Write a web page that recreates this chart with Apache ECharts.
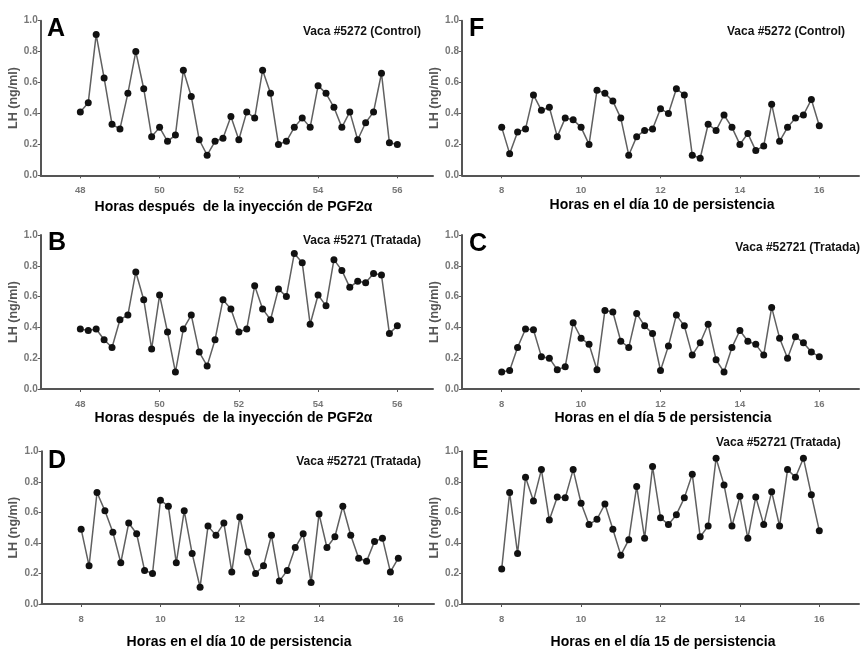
<!DOCTYPE html>
<html>
<head>
<meta charset="utf-8">
<script src="https://cdn.jsdelivr.net/npm/echarts@6/dist/echarts.min.js"></script>
<style>
html, body { margin: 0; padding: 0; background: #fff; }
#chart { width: 862px; height: 650px; }
</style>
</head>
<body>
<div id="chart"></div>
<script>
// horas de muestreo (cada 12 min)
var hoursPost = [48.0, 48.2, 48.4, 48.6, 48.8, 49.0, 49.2, 49.4, 49.6, 49.8,
    50.0, 50.2, 50.4, 50.6, 50.8, 51.0, 51.2, 51.4, 51.6, 51.8,
    52.0, 52.2, 52.4, 52.6, 52.8, 53.0, 53.2, 53.4, 53.6, 53.8,
    54.0, 54.2, 54.4, 54.6, 54.8, 55.0, 55.2, 55.4, 55.6, 55.8, 56.0];
var hoursDay = [8.0, 8.2, 8.4, 8.6, 8.8, 9.0, 9.2, 9.4, 9.6, 9.8,
    10.0, 10.2, 10.4, 10.6, 10.8, 11.0, 11.2, 11.4, 11.6, 11.8,
    12.0, 12.2, 12.4, 12.6, 12.8, 13.0, 13.2, 13.4, 13.6, 13.8,
    14.0, 14.2, 14.4, 14.6, 14.8, 15.0, 15.2, 15.4, 15.6, 15.8, 16.0];

// LH (ng/ml) por panel
var lhA = [0.41, 0.47, 0.91, 0.63, 0.33, 0.30, 0.53, 0.80, 0.56, 0.25, 0.31, 0.22, 0.26, 0.68, 0.51, 0.23, 0.13, 0.22, 0.24, 0.38,
    0.23, 0.41, 0.37, 0.68, 0.53, 0.20, 0.22, 0.31, 0.37, 0.31, 0.58, 0.53, 0.44, 0.31, 0.41, 0.23, 0.34, 0.41, 0.66, 0.21, 0.20];
var lhF = [0.31, 0.14, 0.28, 0.30, 0.52, 0.42, 0.44, 0.25, 0.37, 0.36, 0.31, 0.20, 0.55, 0.53, 0.48, 0.37, 0.13, 0.25, 0.29, 0.30,
    0.43, 0.40, 0.56, 0.52, 0.13, 0.11, 0.33, 0.29, 0.39, 0.31, 0.20, 0.27, 0.16, 0.19, 0.46, 0.22, 0.31, 0.37, 0.39, 0.49, 0.32];
var lhB = [0.39, 0.38, 0.39, 0.32, 0.27, 0.45, 0.48, 0.76, 0.58, 0.26, 0.61, 0.37, 0.11, 0.39, 0.48, 0.24, 0.15, 0.32, 0.58, 0.52,
    0.37, 0.39, 0.67, 0.52, 0.45, 0.65, 0.60, 0.88, 0.82, 0.42, 0.61, 0.54, 0.84, 0.77, 0.66, 0.70, 0.69, 0.75, 0.74, 0.36, 0.41];
var lhC = [0.11, 0.12, 0.27, 0.39, 0.385, 0.21, 0.20, 0.125, 0.145, 0.43, 0.33, 0.29, 0.125, 0.51, 0.50, 0.31, 0.27, 0.49, 0.41, 0.36,
    0.12, 0.28, 0.48, 0.41, 0.22, 0.30, 0.42, 0.19, 0.11, 0.27, 0.38, 0.31, 0.29, 0.22, 0.53, 0.33, 0.20, 0.34, 0.30, 0.24, 0.21];
var lhD = [0.49, 0.25, 0.73, 0.61, 0.47, 0.27, 0.53, 0.46, 0.22, 0.20, 0.68, 0.64, 0.27, 0.61, 0.33, 0.11, 0.51, 0.45, 0.53, 0.21,
    0.57, 0.34, 0.20, 0.25, 0.45, 0.15, 0.22, 0.37, 0.46, 0.14, 0.59, 0.37, 0.44, 0.64, 0.45, 0.30, 0.28, 0.41, 0.43, 0.21, 0.30];
var lhE = [0.23, 0.73, 0.33, 0.83, 0.675, 0.88, 0.55, 0.70, 0.695, 0.88, 0.66, 0.52, 0.555, 0.655, 0.49, 0.32, 0.42, 0.77, 0.43, 0.90,
    0.565, 0.52, 0.585, 0.695, 0.85, 0.44, 0.51, 0.955, 0.78, 0.51, 0.705, 0.43, 0.70, 0.52, 0.735, 0.51, 0.88, 0.83, 0.955, 0.715, 0.48];

var ticksPost = [48, 50, 52, 54, 56];
var ticksDay = [8, 10, 12, 14, 16];

var panelLetters = ['A', 'F', 'B', 'C', 'D', 'E'];
var cowLabels = ['Vaca #5272 (Control)', 'Vaca #5272 (Control)', 'Vaca #5271 (Tratada)',
    'Vaca #52721 (Tratada)', 'Vaca #52721 (Tratada)', 'Vaca #52721 (Tratada)'];
var xTitles = ['Horas después  de la inyección de PGF2α', 'Horas en el día 10 de persistencia',
    'Horas después  de la inyección de PGF2α', 'Horas en el día 5 de persistencia',
    'Horas en el día 10 de persistencia', 'Horas en el día 15 de persistencia'];
var yName = 'LH (ng/ml)';

var FONT = '"Liberation Sans", Arial, sans-serif';

// posicion de cada panel en la pagina
var panels = [
    { hours: hoursPost, lh: lhA, ticks: ticksPost, min: 47, max: 56.9,
      grid: { left: 40.7, top: 20.7, width: 392.3, height: 154.6 },
      letter: [47, 29], cow: [421, 31.5, 'right'], title: [233.5, 207.5] },
    { hours: hoursDay, lh: lhF, ticks: ticksDay, min: 7, max: 17,
      grid: { left: 462, top: 20.7, width: 397, height: 154.6 },
      letter: [469, 29], cow: [727, 31.5, 'left'], title: [662, 205] },
    { hours: hoursPost, lh: lhB, ticks: ticksPost, min: 47, max: 56.9,
      grid: { left: 40.7, top: 235, width: 392.3, height: 154 },
      letter: [48, 243.5], cow: [421, 240.5, 'right'], title: [233.5, 418] },
    { hours: hoursDay, lh: lhC, ticks: ticksDay, min: 7, max: 17,
      grid: { left: 462, top: 235, width: 397, height: 154 },
      letter: [469, 244], cow: [860, 247.5, 'right'], title: [663, 418] },
    { hours: hoursDay, lh: lhD, ticks: ticksDay, min: 7, max: 16.9,
      grid: { left: 41.5, top: 451.3, width: 392.5, height: 152.7 },
      letter: [48, 461.5], cow: [421, 461.5, 'right'], title: [239, 642] },
    { hours: hoursDay, lh: lhE, ticks: ticksDay, min: 7, max: 17,
      grid: { left: 462, top: 451.3, width: 397, height: 152.7 },
      letter: [472, 461], cow: [716, 442.5, 'left'], title: [663, 642] }
];

var grids = [], xAxes = [], yAxes = [], series = [], texts = [];

panels.forEach(function (p, i) {
    grids.push(p.grid);
    xAxes.push({
        type: 'value', gridIndex: i, min: p.min, max: p.max,
        axisLine: { onZero: false, lineStyle: { color: '#555', width: 2 } },
        axisTick: { customValues: p.ticks, length: 3, lineStyle: { color: '#555', width: 1 } },
        axisLabel: { customValues: p.ticks, margin: 10, fontSize: 9.5, fontWeight: 'bold', color: '#777', fontFamily: FONT },
        splitLine: { show: false }
    });
    yAxes.push({
        type: 'value', gridIndex: i, min: 0, max: 1, interval: 0.2,
        name: yName, nameLocation: 'middle', nameGap: 21,
        nameTextStyle: { fontSize: 12.5, fontWeight: 'bold', color: '#555', fontFamily: FONT },
        axisLine: { show: true, lineStyle: { color: '#555', width: 2 } },
        axisTick: { show: true, length: 3, lineStyle: { color: '#555', width: 1 } },
        axisLabel: {
            margin: 3, fontSize: 10, fontWeight: 'bold', color: '#777', fontFamily: FONT,
            formatter: function (v) { return v.toFixed(1); }
        },
        splitLine: { show: false }
    });
    series.push({
        type: 'line', xAxisIndex: i, yAxisIndex: i,
        data: p.hours.map(function (h, k) { return [h, p.lh[k]]; }),
        symbol: 'circle', symbolSize: 7, showSymbol: true,
        itemStyle: { color: '#111' },
        lineStyle: { color: '#606060', width: 1.5 }
    });
    texts.push({
        type: 'text', x: p.letter[0], y: p.letter[1],
        style: { text: panelLetters[i], font: 'bold 25px ' + FONT, fill: '#000', align: 'left', verticalAlign: 'middle' }
    });
    texts.push({
        type: 'text', x: p.cow[0], y: p.cow[1],
        style: { text: cowLabels[i], font: 'bold 12px ' + FONT, fill: '#111', align: p.cow[2], verticalAlign: 'middle' }
    });
    texts.push({
        type: 'text', x: p.title[0], y: p.title[1],
        style: { text: xTitles[i], font: 'bold 14px ' + FONT, fill: '#000', align: 'center', verticalAlign: 'middle' }
    });
});

var myChart = echarts.init(document.getElementById('chart'));
myChart.setOption({
    animation: false,
    grid: grids,
    xAxis: xAxes,
    yAxis: yAxes,
    series: series,
    graphic: texts
});
</script>
</body>
</html>
